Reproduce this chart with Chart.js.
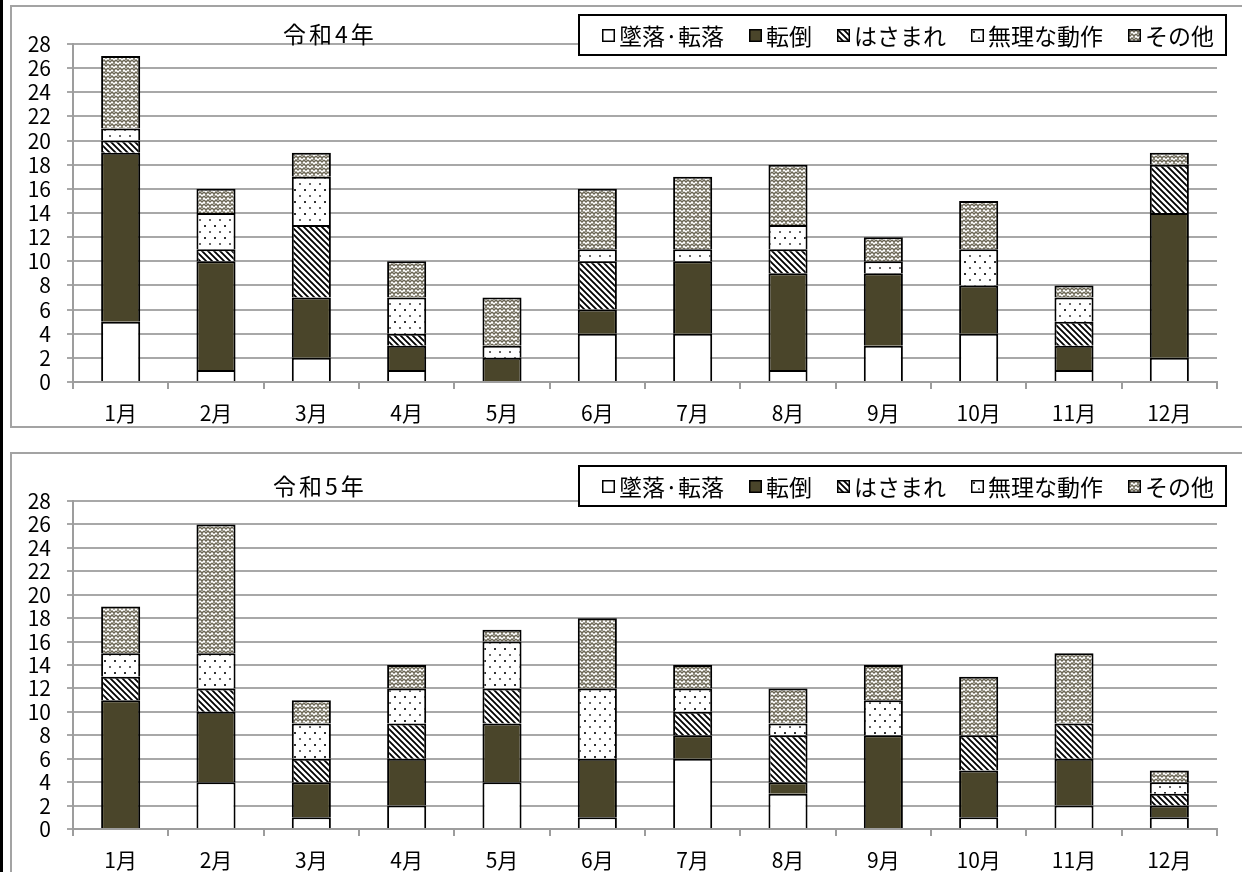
<!DOCTYPE html>
<html lang="ja">
<head>
<meta charset="UTF-8">
<title>月別労働災害件数</title>
<script src="https://cdn.jsdelivr.net/npm/chart.js"></script>
<style>
  body { margin: 0; width: 1242px; height: 872px; overflow: hidden; background: #fff;
         font-family: "Noto Sans CJK JP", sans-serif; position: relative; }
  .leftBar { position: absolute; left: 0; top: 0; width: 3px; height: 872px; background: #000; }
  .panel { position: absolute; left: 10px; width: 1240px; border: 2px solid #a3a3a3; box-sizing: border-box; }
  .panel canvas { display: block; }
  .titulo { position: absolute; font-size: 23px; line-height: 23px; color: #000; letter-spacing: 3px; z-index: 2; }
  .legenda { position: absolute; left: 578px; width: 649px; height: 42px; box-sizing: border-box;
             border: 2px solid #000; background: #fff; z-index: 2; display: flex; align-items: center;
             padding-left: 22px; font-size: 23px; color: #000; }
  .legenda .item { display: flex; align-items: center; margin-right: 25px; white-space: nowrap; }
  .legenda canvas { margin-right: 4px; }
</style>
</head>
<body>
<div class="leftBar"></div>

<div class="panel" style="top:5px;height:423px;"><canvas id="chartR4" width="1236" height="419"></canvas></div>
<div class="titulo" style="left:283px;top:22px;">令和4年</div>
<div class="legenda" id="legendR4" style="top:14px;"></div>

<div class="panel" style="top:452px;height:430px;"><canvas id="chartR5" width="1236" height="426"></canvas></div>
<div class="titulo" style="left:273px;top:474px;">令和5年</div>
<div class="legenda" id="legendR5" style="top:465px;"></div>

<script>
// 月ラベル・災害種別
const months = ['1月', '2月', '3月', '4月', '5月', '6月', '7月', '8月', '9月', '10月', '11月', '12月'];
const seriesNames = ['墜落·転落', '転倒', 'はさまれ', '無理な動作', 'その他'];
const yTicks = [0, 28, 2]; // min, max, step

// 令和4年
const r4Fall   = [5, 1, 2, 1, 0, 4, 4, 1, 3, 4, 1, 2];
const r4Slip   = [14, 9, 5, 2, 2, 2, 6, 8, 6, 4, 2, 12];
const r4Caught = [1, 1, 6, 1, 0, 4, 0, 2, 0, 0, 2, 4];
const r4Strain = [1, 3, 4, 3, 1, 1, 1, 2, 1, 3, 2, 0];
const r4Other  = [6, 2, 2, 3, 4, 5, 6, 5, 2, 4, 1, 1];

// 令和5年
const r5Fall   = [0, 4, 1, 2, 4, 1, 6, 3, 0, 1, 2, 1];
const r5Slip   = [11, 6, 3, 4, 5, 5, 2, 1, 8, 4, 4, 1];
const r5Caught = [2, 2, 2, 3, 3, 0, 2, 4, 0, 3, 3, 1];
const r5Strain = [2, 3, 3, 3, 4, 6, 2, 1, 3, 0, 0, 1];
const r5Other  = [4, 11, 2, 2, 1, 6, 2, 3, 3, 5, 6, 1];

// 塗りつぶしパターン
function makeTile(w, h, draw) {
    const c = document.createElement('canvas');
    c.width = w; c.height = h;
    const g = c.getContext('2d');
    g.fillStyle = '#fff';
    g.fillRect(0, 0, w, h);
    draw(g);
    return c;
}

const tileHatch = makeTile(6, 6, g => {
    g.strokeStyle = '#000';
    g.lineWidth = 1.8;
    g.beginPath();
    g.moveTo(-1, -1); g.lineTo(7, 7);
    g.moveTo(-1, 5); g.lineTo(1, 7);
    g.moveTo(5, -1); g.lineTo(7, 1);
    g.stroke();
});

const tileDots = makeTile(10, 12, g => {
    g.fillStyle = '#333';
    g.fillRect(2, 2, 2, 2);
    g.fillStyle = '#666';
    g.fillRect(7, 8, 2, 2);
});

const tileOther = makeTile(8, 8, g => {
    g.strokeStyle = '#6a6553';
    g.lineWidth = 1.5;
    g.beginPath();
    g.moveTo(0, 1); g.lineTo(2, 3); g.lineTo(4, 1); g.lineTo(6, 3); g.lineTo(8, 1);
    g.moveTo(0, 5); g.lineTo(2, 7); g.lineTo(4, 5); g.lineTo(6, 7); g.lineTo(8, 5);
    g.moveTo(2, 3); g.lineTo(2, 5);
    g.moveTo(6, 7); g.lineTo(6, 9);
    g.moveTo(6, -1); g.lineTo(6, 1);
    g.stroke();
});

function fills(ctx) {
    return [
        '#ffffff',
        '#4a452a',
        ctx.createPattern(tileHatch, 'repeat'),
        ctx.createPattern(tileDots, 'repeat'),
        ctx.createPattern(tileOther, 'repeat')
    ];
}

function buildLegend(id) {
    const box = document.getElementById(id);
    seriesNames.forEach((name, i) => {
        const item = document.createElement('div');
        item.className = 'item';
        const sw = document.createElement('canvas');
        sw.width = 13; sw.height = 13;
        const g = sw.getContext('2d');
        g.fillStyle = fills(g)[i];
        g.fillRect(0, 0, 13, 13);
        g.strokeStyle = '#000';
        g.lineWidth = 1.5;
        g.strokeRect(0.75, 0.75, 11.5, 11.5);
        item.appendChild(sw);
        const t = document.createElement('span');
        t.textContent = name;
        item.appendChild(t);
        box.appendChild(item);
    });
}

function renderChart(id, values, padTop, xHeight) {
    const ctx = document.getElementById(id).getContext('2d');
    const bg = fills(ctx);
    const font = { family: '"Noto Sans CJK JP", sans-serif', size: 21 };

    return new Chart(ctx, {
        type: 'bar',
        data: {
            labels: months,
            datasets: values.map((v, i) => ({
                label: seriesNames[i],
                data: v,
                backgroundColor: bg[i],
                borderColor: '#000',
                borderWidth: 2,
                borderSkipped: 'start',
                barPercentage: 1,
                categoryPercentage: 0.41
            }))
        },
        options: {
            responsive: false,
            animation: false,
            layout: { padding: { top: padTop, right: 31, left: 0, bottom: 0 } },
            plugins: { legend: { display: false }, title: { display: false }, tooltip: { enabled: false } },
            scales: {
                x: {
                    stacked: true,
                    grid: { drawOnChartArea: false, drawTicks: true, tickLength: 7, color: '#9d9d9d', lineWidth: 2, offset: true },
                    border: { color: '#9d9d9d', width: 2 },
                    ticks: { font, color: '#000', padding: 11, maxRotation: 0, autoSkip: false },
                    afterFit: s => { s.height = xHeight; }
                },
                y: {
                    stacked: true,
                    min: yTicks[0],
                    max: yTicks[1],
                    grid: { color: '#a8a8a8', lineWidth: 2, tickLength: 6 },
                    border: { color: '#9d9d9d', width: 2 },
                    ticks: { stepSize: yTicks[2], font, color: '#000', padding: 16, autoSkip: false },
                    afterFit: s => { s.width = 61; }
                }
            }
        }
    });
}

buildLegend('legendR4');
buildLegend('legendR5');
renderChart('chartR4', [r4Fall, r4Slip, r4Caught, r4Strain, r4Other], 37, 44);
renderChart('chartR5', [r5Fall, r5Slip, r5Caught, r5Strain, r5Other], 47, 51);
</script>
</body>
</html>
